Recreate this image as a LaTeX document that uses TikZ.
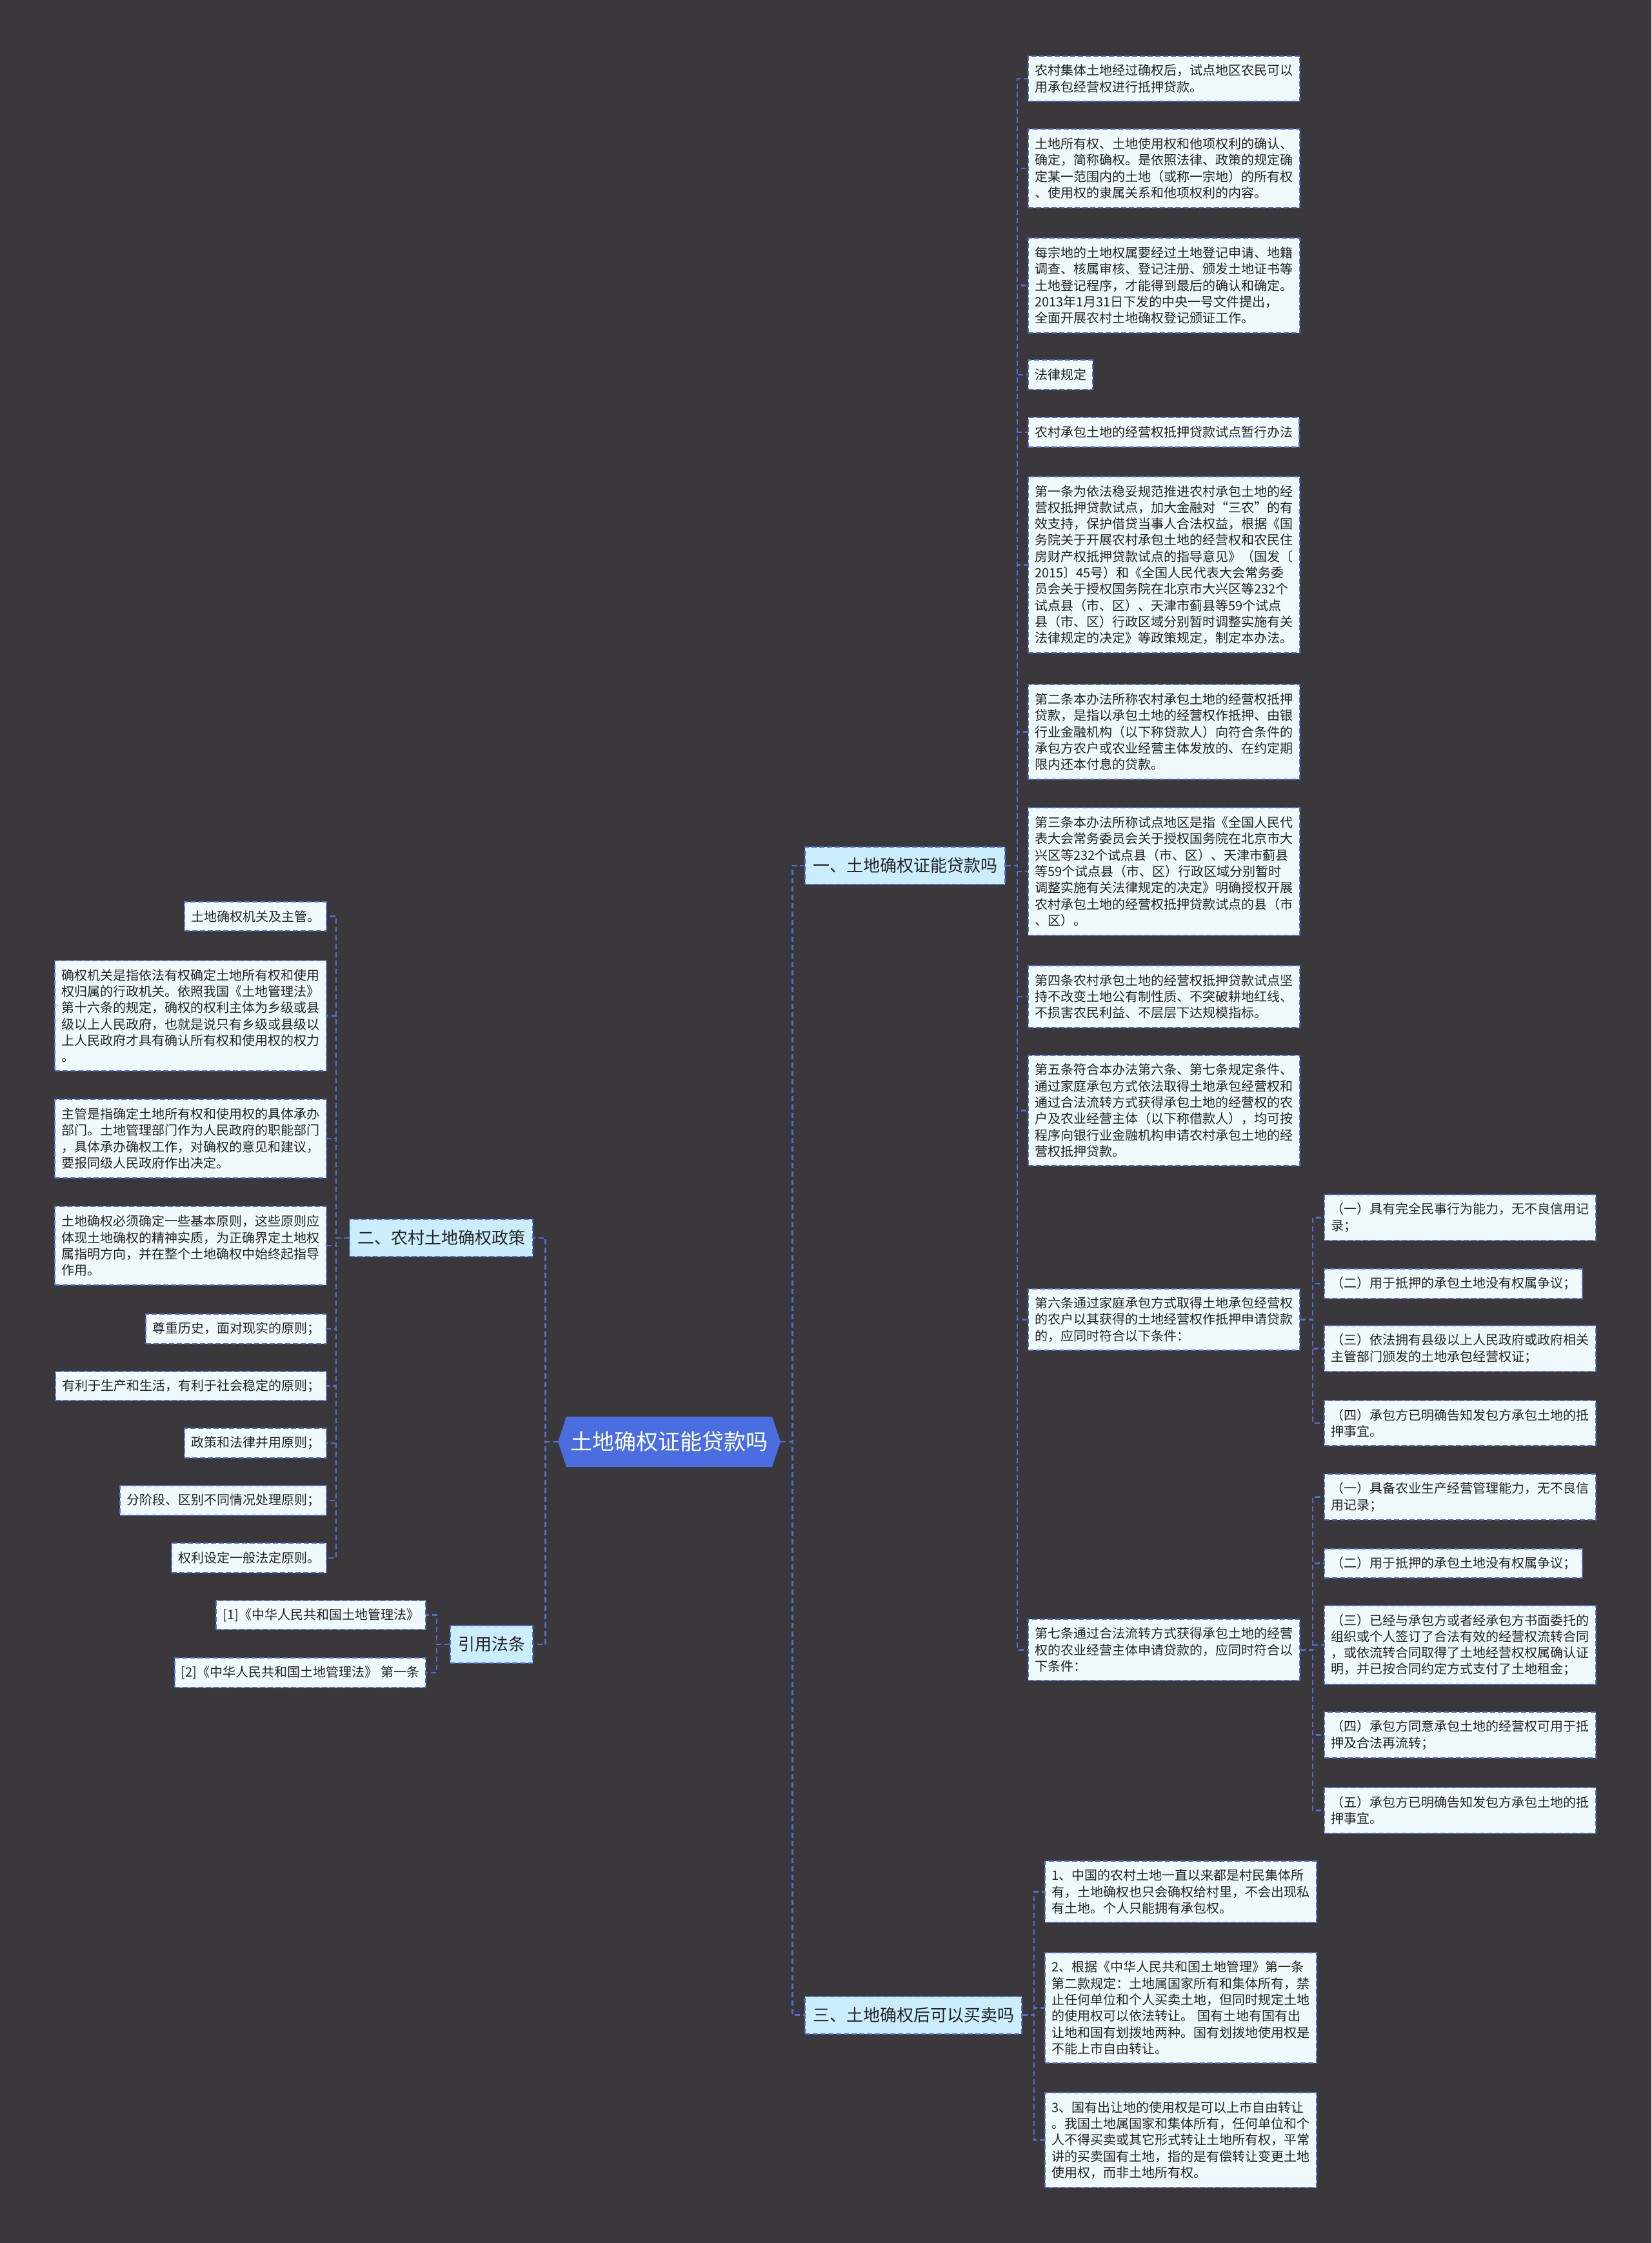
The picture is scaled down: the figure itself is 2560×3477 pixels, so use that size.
\documentclass[tikz,border=0pt]{standalone}
\usepackage{fontspec}
\newfontfamily\cjk{Noto Sans CJK SC}
\definecolor{bgcol}{RGB}{58,56,58}
\definecolor{lineblue}{RGB}{80,110,215}
\definecolor{leaffill}{RGB}{240,250,253}
\definecolor{branchfill}{RGB}{204,238,252}
\definecolor{rootfill}{RGB}{74,110,224}
\definecolor{textdark}{RGB}{35,35,35}
\begin{document}
\begin{tikzpicture}[x=0.5pt,y=-0.5pt,
  conn/.style={draw=lineblue, line width=1.2pt, dash pattern=on 4pt off 2.5pt},
  box/.style={draw=lineblue, line width=1pt, dash pattern=on 4pt off 2pt, fill=leaffill, text=textdark,
    font=\cjk\fontsize{10pt}{12.65pt}\selectfont, inner xsep=5pt, inner ysep=3pt, align=left},
  wbox/.style={box, text width=200.5pt},
  ln1/.style={minimum height=22.65pt},
  ln2/.style={minimum height=35.3pt},
  ln3/.style={minimum height=47.95pt},
  ln4/.style={minimum height=60.6pt},
  ln5/.style={minimum height=73.25pt},
  ln6/.style={minimum height=85.9pt},
  ln7/.style={minimum height=98.55pt},
  ln10/.style={minimum height=136.5pt},
  branch/.style={draw=lineblue, line width=1pt, dash pattern=on 4pt off 2pt, fill=branchfill, text=textdark,
    font=\cjk\fontsize{13pt}{16pt}\selectfont, inner xsep=6pt, minimum height=29pt},
  roottext/.style={text=white, font=\cjk\fontsize{17pt}{20pt}\selectfont, minimum width=172.5pt, minimum height=39pt, inner sep=0pt}
]
\fill[bgcol] (0,0) rectangle (2560,3477);
\useasboundingbox (0,0) rectangle (2560,3477);

% root
\fill[rootfill] (865,2235) -- (878,2196) -- (1197,2196) -- (1210,2235) -- (1197,2274) -- (878,2274) -- cycle;
\node[roottext] (root) at (1037.5,2235) {土地确权证能贷款吗};

% branches
\node[branch, anchor=west] (b1) at (1247,1342) {一、土地确权证能贷款吗};
\node[branch, anchor=east] (b2) at (827,1919) {二、农村土地确权政策};
\node[branch, anchor=east] (bq) at (827,2549) {引用法条};
\node[branch, anchor=west] (b3) at (1247,3123.5) {三、土地确权后可以买卖吗};

% right column
\node[wbox, ln2, anchor=west] (r1) at (1593,122) {农村集体土地经过确权后，试点地区农民可以\\用承包经营权进行抵押贷款。};
\node[wbox, ln4, anchor=west] (r2) at (1593,261) {土地所有权、土地使用权和他项权利的确认、\\确定，简称确权。是依照法律、政策的规定确\\定某一范围内的土地（或称一宗地）的所有权\\、使用权的隶属关系和他项权利的内容。};
\node[wbox, ln5, anchor=west] (r3) at (1593,442.5) {每宗地的土地权属要经过土地登记申请、地籍\\调查、核属审核、登记注册、颁发土地证书等\\土地登记程序，才能得到最后的确认和确定。\\2013年1月31日下发的中央一号文件提出，\\全面开展农村土地确权登记颁证工作。};
\node[box, ln1, anchor=west] (r4) at (1593,581) {法律规定};
\node[box, ln1, anchor=west] (r5) at (1593,670) {农村承包土地的经营权抵押贷款试点暂行办法};
\node[wbox, ln10, anchor=west] (r6) at (1593,875.5) {第一条为依法稳妥规范推进农村承包土地的经\\营权抵押贷款试点，加大金融对“三农”的有\\效支持，保护借贷当事人合法权益，根据《国\\务院关于开展农村承包土地的经营权和农民住\\房财产权抵押贷款试点的指导意见》（国发〔\\2015〕45号）和《全国人民代表大会常务委\\员会关于授权国务院在北京市大兴区等232个\\试点县（市、区）、天津市蓟县等59个试点\\县（市、区）行政区域分别暂时调整实施有关\\法律规定的决定》等政策规定，制定本办法。};
\node[wbox, ln5, anchor=west] (r7) at (1593,1134.5) {第二条本办法所称农村承包土地的经营权抵押\\贷款，是指以承包土地的经营权作抵押、由银\\行业金融机构（以下称贷款人）向符合条件的\\承包方农户或农业经营主体发放的、在约定期\\限内还本付息的贷款。};
\node[wbox, ln7, anchor=west] (r8) at (1593,1351) {第三条本办法所称试点地区是指《全国人民代\\表大会常务委员会关于授权国务院在北京市大\\兴区等232个试点县（市、区）、天津市蓟县\\等59个试点县（市、区）行政区域分别暂时\\调整实施有关法律规定的决定》明确授权开展\\农村承包土地的经营权抵押贷款试点的县（市\\、区）。};
\node[wbox, ln3, anchor=west] (r9) at (1593,1545) {第四条农村承包土地的经营权抵押贷款试点坚\\持不改变土地公有制性质、不突破耕地红线、\\不损害农民利益、不层层下达规模指标。};
\node[wbox, ln6, anchor=west] (r10) at (1593,1721.5) {第五条符合本办法第六条、第七条规定条件、\\通过家庭承包方式依法取得土地承包经营权和\\通过合法流转方式获得承包土地的经营权的农\\户及农业经营主体（以下称借款人），均可按\\程序向银行业金融机构申请农村承包土地的经\\营权抵押贷款。};
\node[wbox, ln3, anchor=west] (r11) at (1593,2045.5) {第六条通过家庭承包方式取得土地承包经营权\\的农户以其获得的土地经营权作抵押申请贷款\\的，应同时符合以下条件：};
\node[wbox, ln3, anchor=west] (r12) at (1593,2557.5) {第七条通过合法流转方式获得承包土地的经营\\权的农业经营主体申请贷款的，应同时符合以\\下条件：};

% far right (sixth article)
\node[wbox, ln2, anchor=west] (s1) at (2052,1887.5) {（一）具有完全民事行为能力，无不良信用记\\录；};
\node[box, ln1, anchor=west] (s2) at (2052,1990) {（二）用于抵押的承包土地没有权属争议；};
\node[wbox, ln2, anchor=west] (s3) at (2052,2090.5) {（三）依法拥有县级以上人民政府或政府相关\\主管部门颁发的土地承包经营权证；};
\node[wbox, ln2, anchor=west] (s4) at (2052,2206) {（四）承包方已明确告知发包方承包土地的抵\\押事宜。};

% far right (seventh article)
\node[wbox, ln2, anchor=west] (t1) at (2052,2320.5) {（一）具备农业生产经营管理能力，无不良信\\用记录；};
\node[box, ln1, anchor=west] (t2) at (2052,2423.5) {（二）用于抵押的承包土地没有权属争议；};
\node[wbox, ln4, anchor=west] (t3) at (2052,2550) {（三）已经与承包方或者经承包方书面委托的\\组织或个人签订了合法有效的经营权流转合同\\，或依流转合同取得了土地经营权权属确认证\\明，并已按合同约定方式支付了土地租金；};
\node[wbox, ln2, anchor=west] (t4) at (2052,2689.5) {（四）承包方同意承包土地的经营权可用于抵\\押及合法再流转；};
\node[wbox, ln2, anchor=west] (t5) at (2052,2806.5) {（五）承包方已明确告知发包方承包土地的抵\\押事宜。};

% bottom (branch three)
\node[wbox, ln3, anchor=west] (u1) at (1619,2932.5) {1、中国的农村土地一直以来都是村民集体所\\有，土地确权也只会确权给村里，不会出现私\\有土地。个人只能拥有承包权。};
\node[wbox, ln6, anchor=west] (u2) at (1619,3112.5) {2、根据《中华人民共和国土地管理》第一条\\第二款规定：土地属国家所有和集体所有，禁\\止任何单位和个人买卖土地，但同时规定土地\\的使用权可以依法转让。 国有土地有国有出\\让地和国有划拨地两种。国有划拨地使用权是\\不能上市自由转让。};
\node[wbox, ln5, anchor=west] (u3) at (1619,3317.5) {3、国有出让地的使用权是可以上市自由转让\\。我国土地属国家和集体所有，任何单位和个\\人不得买卖或其它形式转让土地所有权，平常\\讲的买卖国有土地，指的是有偿转让变更土地\\使用权，而非土地所有权。};

% left column (branch two)
\node[box, ln1, anchor=east] (l1) at (507,1420.5) {土地确权机关及主管。};
\node[wbox, ln6, anchor=east] (l2) at (507,1574.5) {确权机关是指依法有权确定土地所有权和使用\\权归属的行政机关。依照我国《土地管理法》\\第十六条的规定，确权的权利主体为乡级或县\\级以上人民政府，也就是说只有乡级或县级以\\上人民政府才具有确认所有权和使用权的权力\\。};
\node[wbox, ln4, anchor=east] (l3) at (507,1765) {主管是指确定土地所有权和使用权的具体承办\\部门。土地管理部门作为人民政府的职能部门\\，具体承办确权工作，对确权的意见和建议，\\要报同级人民政府作出决定。};
\node[wbox, ln4, anchor=east] (l4) at (507,1931) {土地确权必须确定一些基本原则，这些原则应\\体现土地确权的精神实质，为正确界定土地权\\属指明方向，并在整个土地确权中始终起指导\\作用。};
\node[box, ln1, anchor=east] (l5) at (507,2060) {尊重历史，面对现实的原则；};
\node[box, ln1, anchor=east] (l6) at (507,2148.5) {有利于生产和生活，有利于社会稳定的原则；};
\node[box, ln1, anchor=east] (l7) at (507,2237) {政策和法律并用原则；};
\node[box, ln1, anchor=east] (l8) at (507,2326) {分阶段、区别不同情况处理原则；};
\node[box, ln1, anchor=east] (l9) at (507,2415) {权利设定一般法定原则。};

% quotes
\node[box, ln1, anchor=east] (q1) at (661,2503.5) {[1]《中华人民共和国土地管理法》};
\node[box, ln1, anchor=east] (q2) at (661,2593) {[2]《中华人民共和国土地管理法》 第一条};

% connectors
\draw[conn] (root.east) -- ++(18,0) |- (b1.west);
\draw[conn] (root.east) -- ++(18,0) |- (b3.west);
\draw[conn] (root.west) -- ++(-19,0) |- (b2.east);
\draw[conn] (root.west) -- ++(-19,0) |- (bq.east);
\foreach \c in {r1,r2,r3,r4,r5,r6,r7,r8,r9,r10,r11,r12}
  \draw[conn] (b1.east) -- ++(18,0) |- (\c.west);
\foreach \c in {s1,s2,s3,s4}
  \draw[conn] (r11.east) -- ++(19,0) |- (\c.west);
\foreach \c in {t1,t2,t3,t4,t5}
  \draw[conn] (r12.east) -- ++(19,0) |- (\c.west);
\foreach \c in {u1,u2,u3}
  \draw[conn] (b3.east) -- ++(18,0) |- (\c.west);
\foreach \c in {l1,l2,l3,l4,l5,l6,l7,l8,l9}
  \draw[conn] (b2.west) -- ++(-20,0) |- (\c.east);
\foreach \c in {q1,q2}
  \draw[conn] (bq.west) -- ++(-20,0) |- (\c.east);
\end{tikzpicture}
\end{document}
